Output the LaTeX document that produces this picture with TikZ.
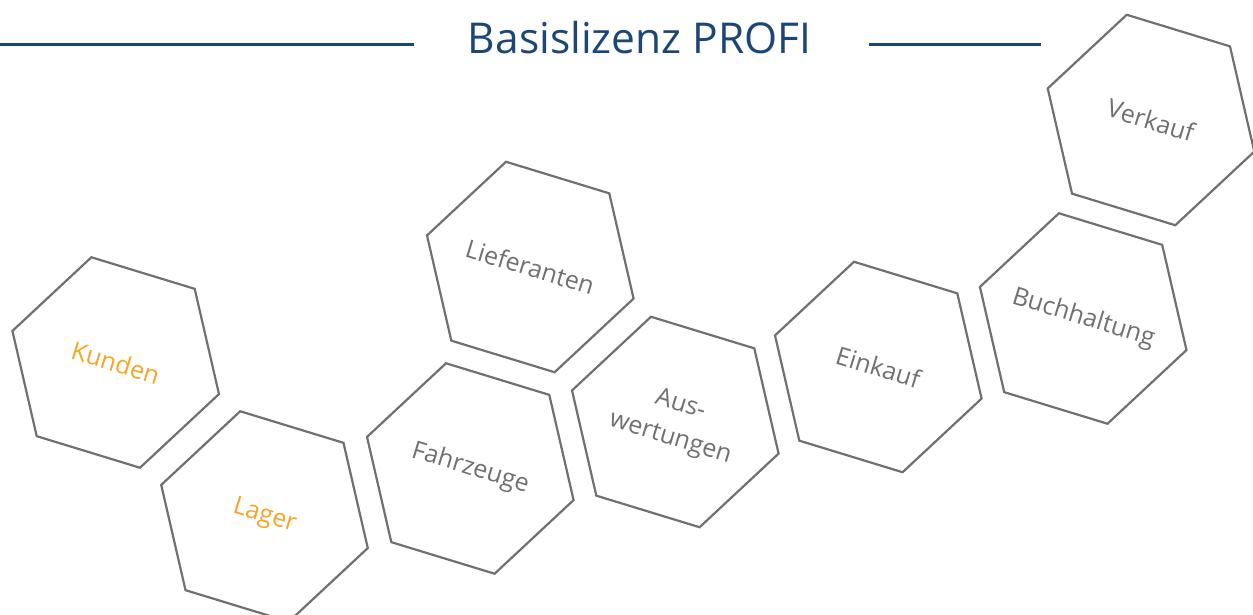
\documentclass[tikz,border=0pt]{standalone}
\usepackage{fontspec}
\setmainfont{Open Sans}
\definecolor{hexgray}{RGB}{112,112,112}
\definecolor{titleblue}{RGB}{28,70,122}
\definecolor{accorange}{RGB}{245,166,40}
\newcommand\hexpath[1]{\draw[hexline] (#1.center) ++(-17:108pt) -- ++(103:108pt) -- ++(163:108pt) -- ++(223:108pt) -- ++(283:108pt) -- ++(343:108pt) -- cycle;}
\begin{document}
\begin{tikzpicture}[x=1pt,y=-1pt,
  hexline/.style={draw=hexgray, line width=2.2pt, line join=miter},
  hexlabel/.style={text=hexgray, font=\fontsize{25}{35}\selectfont, rotate=-17, align=center, inner sep=0pt},
  orangelabel/.style={hexlabel, text=accorange},
  titleline/.style={draw=titleblue, line width=3.5pt},
  titletext/.style={text=titleblue, font=\fontsize{42.5}{50}\selectfont, inner sep=0pt, anchor=base}]
\useasboundingbox (0,0) rectangle (1253,615);
% title
\node[titletext] (title) at (639.7,53.8) {Basislizenz PROFI};
\coordinate (l1) at (0,44.3);
\coordinate (l2) at (414,44.3);
\coordinate (r1) at (869,44.3);
\coordinate (r2) at (1041,44.3);
\draw[titleline] (l1) -- (l2);
\draw[titleline] (r1) -- (r2);
% hexagons
\node[orangelabel] (kunden) at (115.7,362.5) {Kunden};
\node[orangelabel] (lager) at (264.5,516.5) {Lager};
\node[hexlabel] (lieferanten) at (530.3,267) {Lieferanten};
\node[hexlabel] (fahrzeuge) at (470.3,468.5) {Fahrzeuge};
\node[hexlabel] (auswertungen) at (675.3,422) {Aus-\\wertungen};
\node[hexlabel] (einkauf) at (878.3,367) {Einkauf};
\node[hexlabel] (buchhaltung) at (1083.2,318.5) {Buchhaltung};
\node[hexlabel] (verkauf) at (1151,120) {Verkauf};
\hexpath{kunden}
\hexpath{lager}
\hexpath{lieferanten}
\hexpath{fahrzeuge}
\hexpath{auswertungen}
\hexpath{einkauf}
\hexpath{buchhaltung}
\hexpath{verkauf}
\end{tikzpicture}
\end{document}
